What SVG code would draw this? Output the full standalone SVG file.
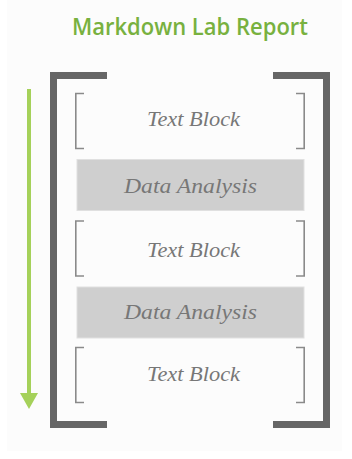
<svg xmlns="http://www.w3.org/2000/svg" width="352" height="459" viewBox="0 0 352 459">
<style>
.tb{font-family:"Liberation Serif",serif;font-style:italic;font-size:22px;fill:#777;text-anchor:middle}
.sb{fill:none;stroke:#8a8a8a;stroke-width:1.6}
.big{fill:none;stroke:#666;stroke-width:7}
.da{fill:#cfcfcf;stroke:#e0e0e0;stroke-width:1}
</style>
<rect x="0" y="0" width="352" height="459" fill="#fff"/>
<rect x="7" y="0" width="335" height="451" fill="#fcfcfc"/>
<text id="title" x="190" y="35" font-family="'Open Sans',sans-serif" font-weight="600" font-size="23" fill="#78b13f" text-anchor="middle" textLength="236" lengthAdjust="spacingAndGlyphs">Markdown Lab Report</text>
<g id="connectors">
<line x1="29" y1="89" x2="29" y2="396" stroke="#a5d15a" stroke-width="4"/>
<path d="M20,393 L38,393 L29,409 Z" fill="#a5d15a"/>
</g>
<g id="frame">
<path class="big" d="M107,75.5 H53.5 V424.5 H107"/>
<path class="big" d="M273,75.5 H326.5 V424.5 H273"/>
</g>
<g id="text-block-1">
<path class="sb" d="M84,93.5 H75.8 V148.5 H84"/>
<path class="sb" d="M296,93.5 H304.2 V148.5 H296"/>
<text class="tb" x="193.5" y="126" textLength="93" lengthAdjust="spacingAndGlyphs">Text Block</text>
</g>
<g id="data-analysis-1">
<rect class="da" x="77" y="159.5" width="227" height="51"/>
<text class="tb" x="190.5" y="193" textLength="133" lengthAdjust="spacingAndGlyphs">Data Analysis</text>
</g>
<g id="text-block-2">
<path class="sb" d="M84,221 H75.8 V276 H84"/>
<path class="sb" d="M296,221 H304.2 V276 H296"/>
<text class="tb" x="193.5" y="257" textLength="93" lengthAdjust="spacingAndGlyphs">Text Block</text>
</g>
<g id="data-analysis-2">
<rect class="da" x="77" y="287" width="227" height="51"/>
<text class="tb" x="190.5" y="319" textLength="133" lengthAdjust="spacingAndGlyphs">Data Analysis</text>
</g>
<g id="text-block-3">
<path class="sb" d="M84,347.5 H75.8 V402.5 H84"/>
<path class="sb" d="M296,347.5 H304.2 V402.5 H296"/>
<text class="tb" x="193.5" y="381" textLength="93" lengthAdjust="spacingAndGlyphs">Text Block</text>
</g>
</svg>
